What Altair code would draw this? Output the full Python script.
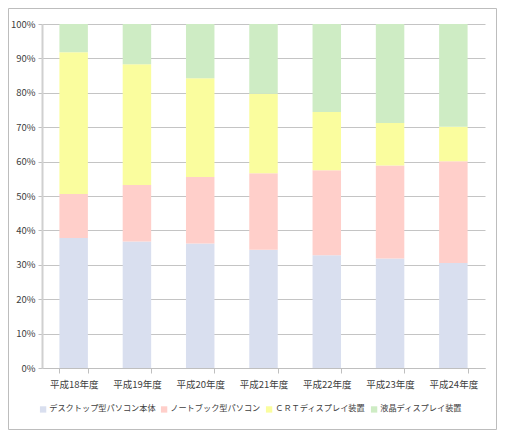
import pandas as pd
import altair as alt

# 年度ごとの構成比 (%)
years = ["平成18年度", "平成19年度", "平成20年度", "平成21年度",
         "平成22年度", "平成23年度", "平成24年度"]
series = ["デスクトップ型パソコン本体", "ノートブック型パソコン",
          "ＣＲＴディスプレイ装置", "液晶ディスプレイ装置"]
desktop = [37.8, 36.8, 36.2, 34.4, 32.8, 31.8, 30.5]
notebook = [12.8, 16.4, 19.3, 22.2, 24.7, 27.1, 29.6]
crt = [41.2, 35.1, 28.7, 23.1, 16.9, 12.3, 10.0]
lcd = [8.2, 11.7, 15.8, 20.3, 25.6, 28.8, 29.9]
colors = ["#D9DFEF", "#FFCFCA", "#FAFD9E", "#CEECC4"]

rows = []
for k, vals in enumerate([desktop, notebook, crt, lcd]):
    for year, v in zip(years, vals):
        rows.append({"year": year, "series": series[k], "value": v, "order": k})
source = pd.DataFrame(rows)

font = "Noto Sans CJK JP"

bars = (
    alt.Chart(source)
    .mark_bar()
    .encode(
        x=alt.X(
            "year:N",
            sort=years,
            title=None,
            scale=alt.Scale(paddingInner=0.55, paddingOuter=0.275),
            axis=alt.Axis(
                labelAngle=0,
                tickBand="extent",
                tickSize=5,
                labelPadding=6,
                domainColor="#BFBFBF",
                tickColor="#BFBFBF",
            ),
        ),
        y=alt.Y(
            "value:Q",
            stack="normalize",
            title=None,
            scale=alt.Scale(domain=[0, 1]),
            axis=alt.Axis(
                format=".0%",
                values=[i / 10 for i in range(11)],
                tickSize=4,
                labelPadding=3,
                domainColor="#D0D0D0",
                domainWidth=2,
                tickColor="#BFBFBF",
                gridColor="#C4C4C4",
            ),
        ),
        color=alt.Color(
            "series:N",
            sort=series,
            scale=alt.Scale(domain=series, range=colors),
            legend=alt.Legend(
                title=None,
                orient="none",
                direction="horizontal",
                legendX=-3,
                legendY=381,
                symbolType="square",
                symbolSize=40,
                symbolStrokeWidth=0,
                labelOffset=2,
                columnPadding=4,
                labelFontSize=8.2,
                labelLimit=300,
            ),
        ),
        order=alt.Order("order:Q", sort="ascending"),
    )
)

# グラフ全体の枠線
frame = (
    alt.Chart(pd.DataFrame({"f": [0]}))
    .mark_rect(fill=None, stroke="#BDBDBD", strokeWidth=1)
    .encode(
        x=alt.value(-33.5),
        x2=alt.value(454.5),
        y=alt.value(-15.5),
        y2=alt.value(405.5),
    )
)

chart = (
    alt.layer(bars, frame)
    .properties(
        width=443,
        height=344,
        autosize=alt.AutoSizeParams(type="none"),
        padding={"left": 34, "top": 16, "right": 12, "bottom": 62},
    )
    .configure_view(stroke=None)
    .configure_axis(
        labelFont=font,
        labelFontSize=9.5,
        labelColor="#404040",
        grid=True,
    )
    .configure_axisX(grid=False)
    .configure_legend(labelFont=font, labelColor="#404040")
)

chart.save("out.html", embed_options={"renderer": "svg", "actions": False})
